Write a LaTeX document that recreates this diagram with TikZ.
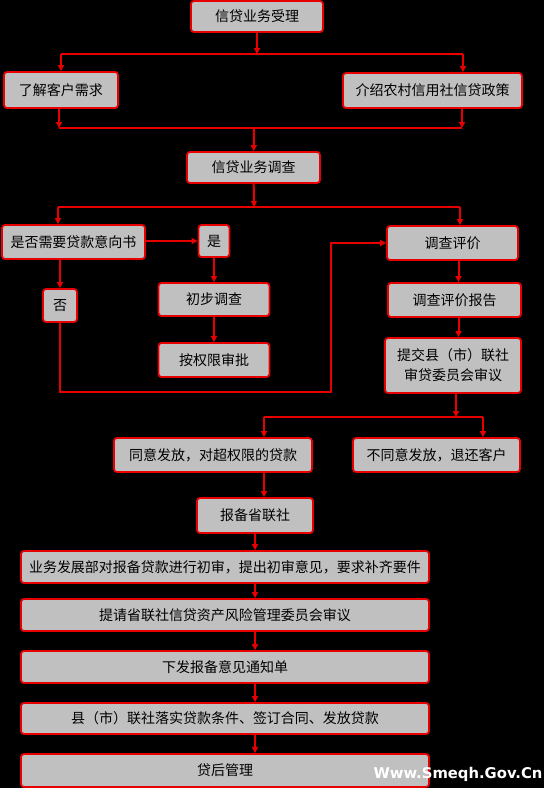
\documentclass[tikz,border=0pt]{standalone}
\usepackage{fontspec}
\usetikzlibrary{arrows.meta}
\newfontfamily\cjk{Noto Sans CJK SC}
\newfontfamily\markfont{DejaVu Sans}
\definecolor{boxgray}{RGB}{192,192,192}
\definecolor{linered}{RGB}{232,0,0}
\begin{document}
\begin{tikzpicture}[x=1pt, y=-1pt, >={Triangle[length=6pt, width=6pt]},
	box/.style={draw=linered, fill=boxgray, line width=1.8pt, rounded corners=3pt, inner sep=0pt, align=center, font=\cjk\fontsize{14pt}{20pt}\selectfont},
	link/.style={draw=linered, fill=linered, line width=2pt}]
	\useasboundingbox (0,0) rectangle (544,788);
	\fill[black] (0,0) rectangle (544,788);
	\node[box, minimum width=132pt, minimum height=31pt] (accept) at (257,16.5) {信贷业务受理};
	\node[box, minimum width=114pt, minimum height=36pt] (need) at (61,90) {了解客户需求};
	\node[box, minimum width=179pt, minimum height=35pt] (policy) at (432.5,90.5) {介绍农村信用社信贷政策};
	\node[box, minimum width=133pt, minimum height=31pt] (survey) at (253.5,167.5) {信贷业务调查};
	\node[box, minimum width=143pt, minimum height=34pt] (ask) at (73.5,242) {是否需要贷款意向书};
	\node[box, minimum width=31pt, minimum height=32pt] (yes) at (214,241) {是};
	\node[box, minimum width=131pt, minimum height=34pt] (eval) at (452.5,243) {调查评价};
	\node[box, minimum width=34pt, minimum height=33pt] (no) at (60,305.5) {否};
	\node[box, minimum width=111pt, minimum height=33pt] (prelim) at (214,299.5) {初步调查};
	\node[box, minimum width=111pt, minimum height=34pt] (approve) at (214,360) {按权限审批};
	\node[box, minimum width=133pt, minimum height=34pt] (report) at (454.5,300) {调查评价报告};
	\node[box, minimum width=136pt, minimum height=55pt] (submit) at (453,365.5) {提交县（市）联社\\审贷委员会审议};
	\node[box, minimum width=198pt, minimum height=34pt] (agree) at (213,455) {同意发放，对超权限的贷款};
	\node[box, minimum width=167pt, minimum height=34pt] (reject) at (436.5,455) {不同意发放，退还客户};
	\node[box, minimum width=116pt, minimum height=35pt] (province) at (255,515.5) {报备省联社};
	\node[box, minimum width=408pt, minimum height=32pt] (dept) at (225,567) {业务发展部对报备贷款进行初审，提出初审意见，要求补齐要件};
	\node[box, minimum width=408pt, minimum height=32pt] (risk) at (225,615) {提请省联社信贷资产风险管理委员会审议};
	\node[box, minimum width=408pt, minimum height=32pt] (notice) at (225,667) {下发报备意见通知单};
	\node[box, minimum width=408pt, minimum height=31pt] (loan) at (225,718.5) {县（市）联社落实贷款条件、签订合同、发放贷款};
	\node[box, minimum width=408pt, minimum height=33pt] (after) at (225,770.5) {贷后管理};
	\node[font=\markfont\bfseries\fontsize{14.8pt}{15pt}\selectfont, text=white, inner sep=0pt] (mark) at (458,774) {Www.Smeqh.Gov.Cn};
	\coordinate (s1) at (257,54);
	\coordinate (s1l) at (61,54);
	\coordinate (s1r) at (463,54);
	\coordinate (m1) at (254,128);
	\coordinate (m1l) at (59,128);
	\coordinate (m1r) at (462,128);
	\coordinate (s2) at (254,207);
	\coordinate (s2l) at (58,207);
	\coordinate (s2r) at (460,207);
	\coordinate (back) at (331,392);
	\coordinate (s3) at (456,417);
	\coordinate (s3l) at (264,417);
	\coordinate (s3r) at (483,417);
	\draw[link, ->] (accept) -- (s1);
	\draw[link] (s1l) -- (s1r);
	\draw[link, ->] (s1l) -- (s1l |- need.north);
	\draw[link, ->] (s1r) -- (s1r |- policy.north);
	\draw[link, ->] (m1l |- need.south) -- (m1l);
	\draw[link, ->] (m1r |- policy.south) -- (m1r);
	\draw[link] (m1l) -- (m1r);
	\draw[link, ->] (m1) -- (survey);
	\draw[link, ->] (survey) -- (s2);
	\draw[link] (s2l) -- (s2r);
	\draw[link, ->] (s2l) -- (s2l |- ask.north);
	\draw[link, ->] (s2r) -- (s2r |- eval.north);
	\draw[link, ->] (ask.east |- yes) -- (yes);
	\draw[link, ->] (no.north |- ask.south) -- (no);
	\draw[link, ->] (yes) -- (prelim);
	\draw[link, ->] (prelim) -- (approve);
	\draw[link, ->, fill=none] (no.south) |- (back) |- (eval.west);
	\draw[link, ->] ([xshift=6pt]eval.south) -- ([xshift=6pt]eval.south |- report.north);
	\draw[link, ->] ([xshift=4pt]report.south) -- ([xshift=4pt]report.south |- submit.north);
	\draw[link, ->] (s3 |- submit.south) -- (s3);
	\draw[link] (s3l) -- (s3r);
	\draw[link, ->] (s3l) -- (s3l |- agree.north);
	\draw[link, ->] (s3r) -- (s3r |- reject.north);
	\draw[link, ->] (s3l |- agree.south) -- (s3l |- province.north);
	\foreach \a/\b in {province/dept, dept/risk, risk/notice, notice/loan, loan/after}
		\draw[link, ->] (province.south |- \a.south) -- (province.south |- \b.north);
\end{tikzpicture}
\end{document}
